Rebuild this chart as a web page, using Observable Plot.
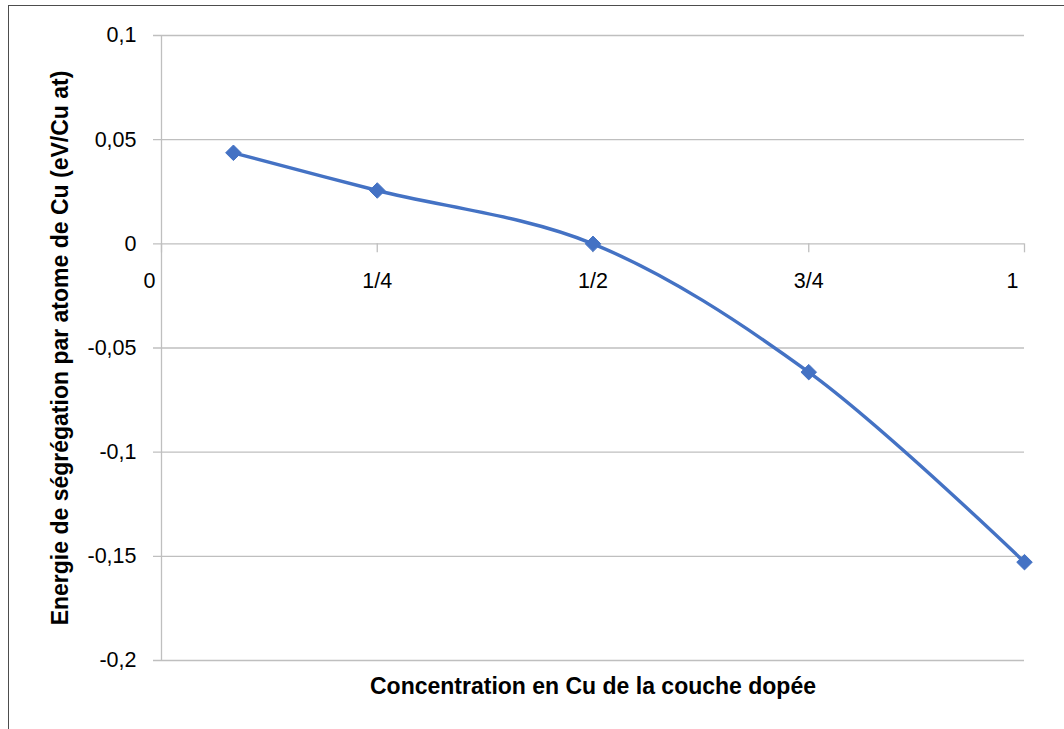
<!DOCTYPE html>
<html>
<head>
<meta charset="utf-8">
<script src="https://cdn.jsdelivr.net/npm/d3@7"></script>
<script src="https://cdn.jsdelivr.net/npm/@observablehq/plot@0.6"></script>
<style>
  html, body { margin: 0; padding: 0; background: #fff; }
  #chart { position: relative; width: 1064px; height: 729px; overflow: hidden; }
  #frame { position: absolute; left: 8px; top: 5px; width: 1070px; height: 740px; border: 1.5px solid #4d4d4d; box-sizing: border-box; pointer-events: none; }
</style>
</head>
<body>
<div id="chart"><div id="frame"></div></div>
<script>
// Data
const concentration = [1/12, 1/4, 1/2, 3/4, 1];
const energy = [0.0437, 0.0256, 0, -0.0616, -0.1528];
const xTicks = [0, 0.25, 0.5, 0.75, 1];
const xTickLabels = ["0", "1/4", "1/2", "3/4", "1"];
const yTicks = [0.1, 0.05, 0, -0.05, -0.1, -0.15, -0.2];
const xTitle = "Concentration en Cu de la couche dopée";
const yTitle = "Energie de ségrégation par atome de Cu (eV/Cu at)";

const data = concentration.map((c, i) => ({c, e: energy[i]}));
const tickData = xTicks.map((t, i) => ({t, label: xTickLabels[i]}));
const midTicks = tickData.filter(d => d.t > 0 && d.t < 1);
const edgeTicks = tickData.filter(d => d.t === 0 || d.t === 1);

const font = "'Liberation Sans', Arial, sans-serif";
const blue = "#4472C4";
const grid = "#bfbfbf";

const chart = Plot.plot({
  width: 1064,
  height: 729,
  marginLeft: 161,
  marginRight: 40,
  marginTop: 35,
  marginBottom: 69,
  style: {fontFamily: font, background: "transparent", overflow: "visible"},
  x: {domain: [0, 1], axis: null},
  y: {domain: [-0.2, 0.1], axis: null},
  marks: [
    // horizontal gridlines (extend a bit left as tick marks)
    Plot.ruleY(yTicks, {stroke: grid, strokeWidth: 1.3, insetLeft: -8}),
    // left vertical axis line
    Plot.ruleX([0], {stroke: grid, strokeWidth: 1.3}),
    // x tick marks below the zero line
    Plot.ruleX(xTicks, {y1: 0, y2: -0.0043, stroke: grid, strokeWidth: 1.3}),
    // y tick labels
    Plot.text(yTicks, {
      x: 0, y: d => d, text: d => d3.format("~g")(d).replace(".", ",").replace("−", "-"),
      textAnchor: "end", dx: -25, fontSize: 21.5, fill: "#000"
    }),
    // x tick labels
    Plot.text(midTicks, {x: "t", y: () => 0, text: "label", dy: 37, fontSize: 21.5, fill: "#000"}),
    Plot.text(edgeTicks, {x: "t", y: () => 0, text: "label", dy: 37, dx: -12, fontSize: 21.5, fill: "#000"}),
    // series line
    Plot.line(data, {x: "c", y: "e", stroke: blue, strokeWidth: 3.4, curve: "catmull-rom"}),
    Plot.dot(data, {x: "c", y: "e", symbol: "diamond2", r: 7, fill: blue, stroke: blue, strokeWidth: 1}),
    // axis titles
    Plot.text([xTitle], {
      frameAnchor: "bottom", dy: 33, text: d => d, fontSize: 23, fontWeight: "bold", fill: "#000"
    }),
    Plot.text([yTitle], {
      frameAnchor: "left", textAnchor: "middle", dx: -101, rotate: -90, text: d => d,
      fontSize: 23, fontWeight: "bold", fill: "#000"
    })
  ]
});
document.getElementById("chart").prepend(chart);
</script>
</body>
</html>
